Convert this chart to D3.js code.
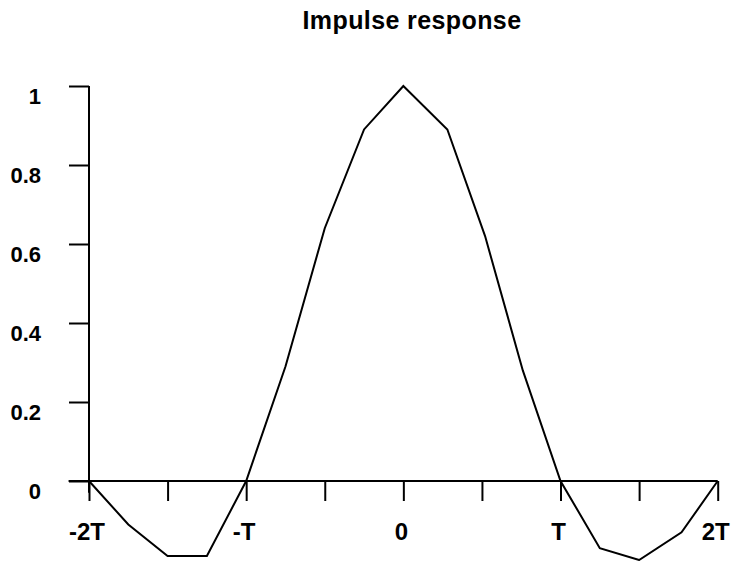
<!DOCTYPE html>
<html>
<head>
<meta charset="utf-8">
<script src="https://cdn.jsdelivr.net/npm/d3@7"></script>
<style>
  body { margin: 0; background: #fff; }
  text { font-family: "Liberation Sans", Arial, Helvetica, sans-serif; font-weight: bold; fill: #000; }
</style>
</head>
<body>
<div id="container"></div>
<script>
// sample times in units of T, and the response
const times = [-2, -1.75, -1.5, -1.25, -1, -0.75, -0.5, -0.25, 0, 0.28, 0.52, 0.76, 1, 1.25, 1.5, 1.77, 2];
const response = [0, -0.11, -0.19, -0.19, 0, 0.29, 0.64, 0.89, 1, 0.89, 0.62, 0.28, 0, -0.17, -0.2, -0.13, 0];

const yTicks = [0, 0.2, 0.4, 0.6, 0.8, 1];
const yTickLabels = ['0', '0.2', '0.4', '0.6', '0.8', '1'];
const xTicks = [-2, -1.5, -1, -0.5, 0, 0.5, 1, 1.5, 2];
const xTickLabels = ['-2T', '', '-T', '', '0', '', 'T', '', '2T'];

const svg = d3.select('#container')
    .append('svg')
    .attr('width', 732)
    .attr('height', 561);

const xScale = d3.scaleLinear().domain([-2, 2]).range([89, 717.7]);
const yScale = d3.scaleLinear().domain([0, 1]).range([481, 86]);

svg.append('text')
    .attr('x', 412)
    .attr('y', 29)
    .attr('text-anchor', 'middle')
    .style('font-size', '25px')
    .style('letter-spacing', '0.4px')
    .text('Impulse response');

// y axis
const yAxis = d3.axisLeft(yScale)
    .tickValues(yTicks)
    .tickSize(20)
    .tickFormat('');

svg.append('g')
    .attr('transform', 'translate(' + xScale(-2) + ',0)')
    .call(yAxis)
    .call(g => g.select('.domain').remove())
    .call(g => g.selectAll('.tick line').attr('stroke', '#000').attr('stroke-width', 2));

svg.append('line')
    .attr('x1', xScale(-2)).attr('x2', xScale(-2))
    .attr('y1', yScale(-0.03)).attr('y2', yScale(1))
    .attr('stroke', '#000')
    .attr('stroke-width', 2);

svg.append('g')
    .selectAll('text')
    .data(yTicks)
    .enter()
    .append('text')
        .attr('x', 41)
        .attr('y', d => yScale(d) + 18)
        .attr('text-anchor', 'end')
        .style('font-size', '22px')
        .text((d, i) => yTickLabels[i]);

// x axis along y = 0
const xAxis = d3.axisBottom(xScale)
    .tickValues(xTicks)
    .tickSize(20)
    .tickFormat('');

svg.append('g')
    .attr('transform', 'translate(0,' + yScale(0) + ')')
    .call(xAxis)
    .call(g => g.select('.domain').remove())
    .call(g => g.selectAll('.tick line').attr('stroke', '#000').attr('stroke-width', 2));

svg.append('line')
    .attr('x1', xScale(-2.13)).attr('x2', xScale(2))
    .attr('y1', yScale(0)).attr('y2', yScale(0))
    .attr('stroke', '#000')
    .attr('stroke-width', 2);

svg.append('g')
    .selectAll('text')
    .data(xTicks)
    .enter()
    .append('text')
        .attr('x', d => xScale(d) - 2)
        .attr('y', 540)
        .attr('text-anchor', 'middle')
        .style('font-size', '24px')
        .text((d, i) => xTickLabels[i]);

// response curve
const line = d3.line()
    .x((d, i) => xScale(times[i]))
    .y(d => yScale(d));

svg.append('path')
    .datum(response)
    .attr('fill', 'none')
    .attr('stroke', '#000')
    .attr('stroke-width', 2)
    .attr('stroke-linejoin', 'miter')
    .attr('d', line);
</script>
</body>
</html>
